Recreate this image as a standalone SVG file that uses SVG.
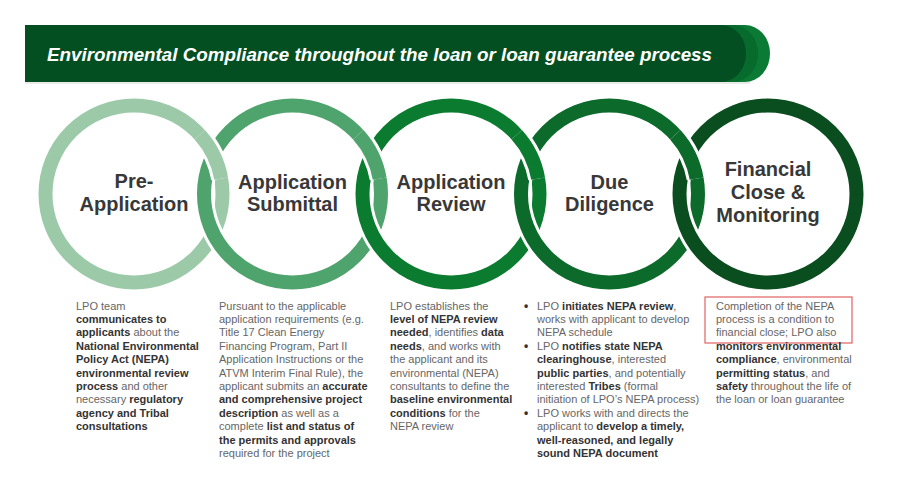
<svg xmlns="http://www.w3.org/2000/svg" width="919" height="504" viewBox="0 0 919 504">
<style>
.title{font-family:"Liberation Sans",Arial,Helvetica,sans-serif;font-size:19px;font-weight:bold;font-style:italic;fill:#ffffff}
.lbl{font-family:"Liberation Sans",Arial,Helvetica,sans-serif;font-size:20px;font-weight:bold;fill:#383838;text-anchor:middle}
.d{font-family:"Liberation Sans",Arial,Helvetica,sans-serif;font-size:11px;fill:#666666}
.b{font-weight:bold;fill:#333333}
.bul{font-family:"Liberation Sans",Arial,Helvetica,sans-serif;font-size:12px;font-weight:bold;fill:#333333}
.halo{fill:none;stroke:#ffffff;stroke-width:20}
.ring{fill:none;stroke-width:14}
.c1{stroke:#9ccaa9}.c2{stroke:#4fa36c}.c3{stroke:#0b7b2f}.c4{stroke:#0c6a2a}.c5{stroke:#0a4d1f}
</style>
<rect width="919" height="504" fill="#ffffff"/>
<g id="header">
<line x1="25" y1="83" x2="750" y2="83" stroke="#d4d8d4" stroke-width="1.2"/>
<path d="M25 25 H745 A25 28.5 0 0 1 745 82 H25 Z" fill="#0b7a34"/>
<path d="M25 25 H733 A25 28.5 0 0 1 733 82 H25 Z" fill="#066b2c"/>
<path d="M25 25 H721 A25 28.5 0 0 1 721 82 H25 Z" fill="#044f22"/>
<text class="title" x="47" y="61" textLength="665" lengthAdjust="spacingAndGlyphs">Environmental Compliance throughout the loan or loan guarantee process</text>
</g>
<g id="pre-application">
<circle class="halo" cx="134" cy="194" r="88.5"/>
<circle class="ring c1" cx="134" cy="194" r="88.5"/>
<text class="lbl" x="134" y="188">Pre-</text>
<text class="lbl" x="134" y="211">Application</text>
<text class="d" x="76" y="309.5">LPO team</text>
<text class="d" x="76" y="322.9"><tspan class="b">communicates to</tspan></text>
<text class="d" x="76" y="336.3"><tspan class="b">applicants</tspan> about the</text>
<text class="d" x="76" y="349.7"><tspan class="b">National Environmental</tspan></text>
<text class="d" x="76" y="363.1"><tspan class="b">Policy Act (NEPA)</tspan></text>
<text class="d" x="76" y="376.5"><tspan class="b">environmental review</tspan></text>
<text class="d" x="76" y="389.9"><tspan class="b">process</tspan> and other</text>
<text class="d" x="76" y="403.3">necessary <tspan class="b">regulatory</tspan></text>
<text class="d" x="76" y="416.7"><tspan class="b">agency and Tribal</tspan></text>
<text class="d" x="76" y="430.1"><tspan class="b">consultations</tspan></text>
</g>
<g id="application-submittal">
<circle class="halo" cx="292.5" cy="194" r="88.5"/>
<circle class="ring c2" cx="292.5" cy="194" r="88.5"/>
<text class="lbl" x="292.5" y="189">Application</text>
<text class="lbl" x="292.5" y="211">Submittal</text>
<text class="d" x="219" y="309.5">Pursuant to the applicable</text>
<text class="d" x="219" y="322.9">application requirements (e.g.</text>
<text class="d" x="219" y="336.3">Title 17 Clean Energy</text>
<text class="d" x="219" y="349.7">Financing Program, Part II</text>
<text class="d" x="219" y="363.1">Application Instructions or the</text>
<text class="d" x="219" y="376.5">ATVM Interim Final Rule), the</text>
<text class="d" x="219" y="389.9">applicant submits an <tspan class="b">accurate</tspan></text>
<text class="d" x="219" y="403.3"><tspan class="b">and comprehensive project</tspan></text>
<text class="d" x="219" y="416.7"><tspan class="b">description</tspan> as well as a</text>
<text class="d" x="219" y="430.1">complete <tspan class="b">list and status of</tspan></text>
<text class="d" x="219" y="443.5"><tspan class="b">the permits and approvals</tspan></text>
<text class="d" x="219" y="456.9">required for the project</text>
</g>
<g id="application-review">
<circle class="halo" cx="451" cy="194" r="88.5"/>
<circle class="ring c3" cx="451" cy="194" r="88.5"/>
<text class="lbl" x="451" y="189">Application</text>
<text class="lbl" x="451" y="211">Review</text>
<text class="d" x="390" y="309.5">LPO establishes the</text>
<text class="d" x="390" y="322.9"><tspan class="b">level of NEPA review</tspan></text>
<text class="d" x="390" y="336.3"><tspan class="b">needed</tspan>, identifies <tspan class="b">data</tspan></text>
<text class="d" x="390" y="349.7"><tspan class="b">needs</tspan>, and works with</text>
<text class="d" x="390" y="363.1">the applicant and its</text>
<text class="d" x="390" y="376.5">environmental (NEPA)</text>
<text class="d" x="390" y="389.9">consultants to define the</text>
<text class="d" x="390" y="403.3"><tspan class="b">baseline environmental</tspan></text>
<text class="d" x="390" y="416.7"><tspan class="b">conditions</tspan> for the</text>
<text class="d" x="390" y="430.1">NEPA review</text>
</g>
<g id="due-diligence">
<circle class="halo" cx="609.5" cy="194" r="88.5"/>
<circle class="ring c4" cx="609.5" cy="194" r="88.5"/>
<text class="lbl" x="609.5" y="189">Due</text>
<text class="lbl" x="609.5" y="211">Diligence</text>
<text class="bul" x="524" y="310">•</text>
<text class="d" x="537" y="309.5">LPO <tspan class="b">initiates NEPA review</tspan>,</text>
<text class="d" x="537" y="322.9">works with applicant to develop</text>
<text class="d" x="537" y="336.3">NEPA schedule</text>
<text class="bul" x="524" y="350.2">•</text>
<text class="d" x="537" y="349.7">LPO <tspan class="b">notifies state NEPA</tspan></text>
<text class="d" x="537" y="363.1"><tspan class="b">clearinghouse</tspan>, interested</text>
<text class="d" x="537" y="376.5"><tspan class="b">public parties</tspan>, and potentially</text>
<text class="d" x="537" y="389.9">interested <tspan class="b">Tribes</tspan> (formal</text>
<text class="d" x="537" y="403.3">initiation of LPO’s NEPA process)</text>
<text class="bul" x="524" y="417.2">•</text>
<text class="d" x="537" y="416.7">LPO works with and directs the</text>
<text class="d" x="537" y="430.1">applicant to <tspan class="b">develop a timely,</tspan></text>
<text class="d" x="537" y="443.5"><tspan class="b">well-reasoned, and legally</tspan></text>
<text class="d" x="537" y="456.9"><tspan class="b">sound NEPA document</tspan></text>
</g>
<g id="financial-close">
<circle class="halo" cx="768" cy="194" r="88.5"/>
<circle class="ring c5" cx="768" cy="194" r="88.5"/>
<text class="lbl" x="768" y="176">Financial</text>
<text class="lbl" x="768" y="199">Close &amp;</text>
<text class="lbl" x="768" y="222">Monitoring</text>
<rect x="705" y="297" width="147" height="46" fill="none" stroke="#e06262" stroke-width="1.2"/>
<text class="d" x="716" y="309.5">Completion of the NEPA</text>
<text class="d" x="716" y="322.9">process is a condition to</text>
<text class="d" x="716" y="336.3">financial close; LPO also</text>
<text class="d" x="716" y="349.7"><tspan class="b">monitors environmental</tspan></text>
<text class="d" x="716" y="363.1"><tspan class="b">compliance</tspan>, environmental</text>
<text class="d" x="716" y="376.5"><tspan class="b">permitting status</tspan>, and</text>
<text class="d" x="716" y="389.9"><tspan class="b">safety</tspan> throughout the life of</text>
<text class="d" x="716" y="403.3">the loan or loan guarantee</text>
</g>
<g id="connectors">
<path class="halo" d="M199.77 134.78 A88.5 88.5 0 0 1 221.16 178.63"/>
<path class="ring c1" d="M199.77 134.78 A88.5 88.5 0 0 1 221.16 178.63"/>
<path class="halo" d="M358.27 134.78 A88.5 88.5 0 0 1 379.66 178.63"/>
<path class="ring c2" d="M358.27 134.78 A88.5 88.5 0 0 1 379.66 178.63"/>
<path class="halo" d="M516.77 134.78 A88.5 88.5 0 0 1 538.16 178.63"/>
<path class="ring c3" d="M516.77 134.78 A88.5 88.5 0 0 1 538.16 178.63"/>
<path class="halo" d="M675.27 134.78 A88.5 88.5 0 0 1 696.66 178.63"/>
<path class="ring c4" d="M675.27 134.78 A88.5 88.5 0 0 1 696.66 178.63"/>
</g>
</svg>
